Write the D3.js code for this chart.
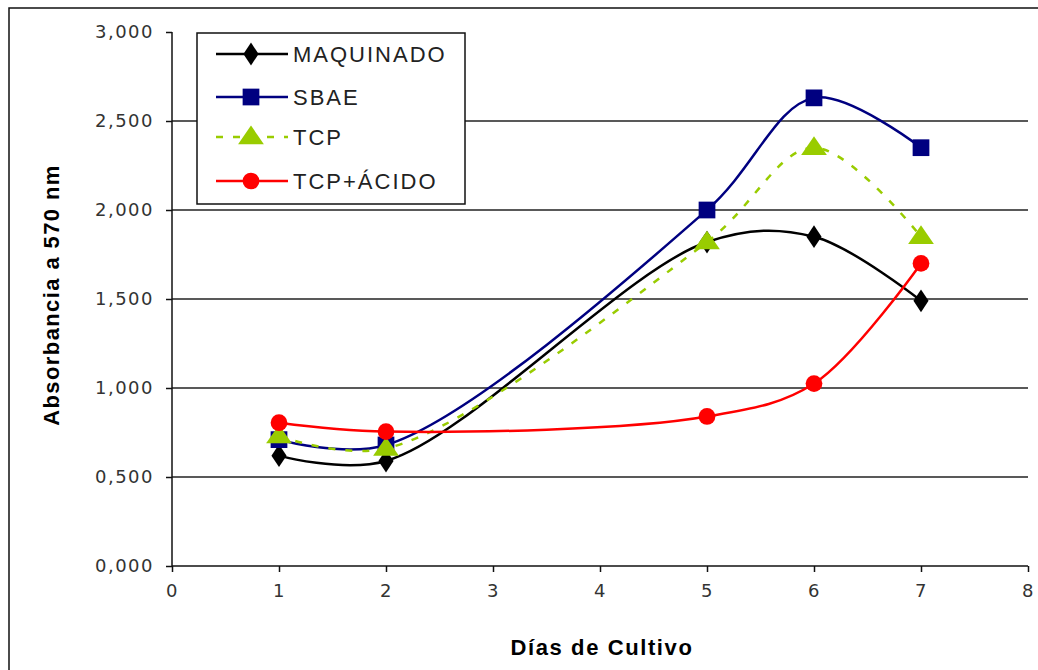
<!DOCTYPE html>
<html><head><meta charset="utf-8">
<script src="https://cdn.jsdelivr.net/npm/d3@7"></script>
<style>
html,body{margin:0;padding:0;background:#fff;}
svg{display:block;}
text{font-family:"Liberation Sans",Arial,sans-serif;}
</style></head>
<body>
<script>
const days = [1, 2, 5, 6, 7];
const maquinado = [0.62, 0.59, 1.82, 1.85, 1.49];
const sbae = [0.71, 0.68, 2.00, 2.63, 2.35];
const tcp = [0.73, 0.66, 1.82, 2.35, 1.85];
const tcpAcido = [0.805, 0.755, 0.84, 1.025, 1.70];
const seriesNames = ["MAQUINADO", "SBAE", "TCP", "TCP+ÁCIDO"];
const xTicks = [0, 1, 2, 3, 4, 5, 6, 7, 8];
const yTicks = [0, 0.5, 1, 1.5, 2, 2.5, 3];
const yTickLabels = ["0,000", "0,500", "1,000", "1,500", "2,000", "2,500", "3,000"];

const W = 1038, H = 670;
const svg = d3.select("body").append("svg").attr("width", W).attr("height", H);

// outer frame
svg.append("rect").attr("x", 9).attr("y", 8).attr("width", W + 20).attr("height", H + 20)
  .attr("fill", "none").attr("stroke", "#111").attr("stroke-width", 1.5);

const x = d3.scaleLinear().domain([0, 8]).range([172, 1028]);
const y = d3.scaleLinear().domain([0, 3]).range([566, 32]);

// gridlines
svg.append("g").selectAll("line").data(yTicks.filter(d => d > 0 && d < 3)).join("line")
  .attr("x1", x(0)).attr("x2", x(8)).attr("y1", d => y(d)).attr("y2", d => y(d))
  .attr("stroke", "#222").attr("stroke-width", 1.5);

// axes
const yAxis = d3.axisLeft(y).tickValues(yTicks).tickSize(6).tickPadding(12)
  .tickFormat((d, i) => yTickLabels[i]);
const gy = svg.append("g").attr("transform", `translate(${x(0)},0)`).call(yAxis);
const xAxis = d3.axisBottom(x).tickValues(xTicks).tickSize(6).tickPadding(12).tickFormat(d3.format("d"));
const gx = svg.append("g").attr("transform", `translate(0,${y(0)})`).call(xAxis);
[gy, gx].forEach(g => {
  g.select(".domain").attr("stroke", "#111").attr("stroke-width", 1.5);
  g.selectAll(".tick line").attr("stroke", "#111").attr("stroke-width", 1.5);
  g.selectAll(".tick text").attr("fill", "#333").style("font-size", "18px")
    .style("letter-spacing", "1.5px").style("font-family", "'DejaVu Sans',sans-serif");
});
gx.select(".domain").attr("d", `M${x(0)},0H${x(8)}`);
gy.select(".domain").attr("d", `M0,${y(3)}V${y(0)}`);

// axis titles
svg.append("text").attr("x", 602).attr("y", 655).attr("text-anchor", "middle")
  .style("font-size", "22px").style("font-weight", "bold").style("letter-spacing", "1.6px")
  .text("Días de Cultivo");
svg.append("text").attr("transform", "translate(59,295) rotate(-90)").attr("text-anchor", "middle")
  .style("font-size", "22px").style("font-weight", "bold").style("letter-spacing", "1.4px")
  .text("Absorbancia a  570 nm");

const seriesData = [maquinado, sbae, tcp, tcpAcido];
const colors = ["#000000", "#000080", "#99CC00", "#FF0000"];
const dashes = [null, null, "7,10", null];
const symbols = [d3.symbolDiamond, d3.symbolSquare, d3.symbolTriangle, d3.symbolCircle];
const symSizes = [150, 280, 200, 220];

const line = d3.line().x(d => x(d[0])).y(d => y(d[1])).curve(d3.curveCatmullRom.alpha(0.5));

function marker(g, i, cx, cy) {
  let s = g.append("path").attr("d", d3.symbol().type(symbols[i]).size(symSizes[i])())
    .attr("fill", colors[i]).attr("transform", `translate(${cx},${cy})`);
  if (i === 0) s.attr("transform", `translate(${cx},${cy}) scale(1.15,1)`);
  if (i === 2) s.attr("transform", `translate(${cx},${cy+1}) scale(1.2,1)`);
}

seriesData.forEach((vals, i) => {
  const pts = days.map((d, j) => [d, vals[j]]);
  const g = svg.append("g");
  g.append("path").attr("d", line(pts)).attr("fill", "none").attr("stroke", colors[i])
    .attr("stroke-width", 2.5).attr("stroke-dasharray", dashes[i]);
  pts.forEach(p => marker(g, i, x(p[0]), y(p[1])));
});

// legend
const lg = svg.append("g");
lg.append("rect").attr("x", 197).attr("y", 33).attr("width", 268).attr("height", 171)
  .attr("fill", "#fff").attr("stroke", "#111").attr("stroke-width", 1.5);
const rowY = [54, 97, 137, 181];
seriesNames.forEach((n, i) => {
  lg.append("line").attr("x1", 216).attr("x2", 288).attr("y1", rowY[i]).attr("y2", rowY[i])
    .attr("stroke", colors[i]).attr("stroke-width", 2.5).attr("stroke-dasharray", dashes[i]);
  marker(lg, i, 251, rowY[i]);
  lg.append("text").attr("x", 293).attr("y", rowY[i] + 8).style("font-size", "22px")
    .style("letter-spacing", "2px").attr("fill", "#222").text(n);
});
</script>
</body></html>
